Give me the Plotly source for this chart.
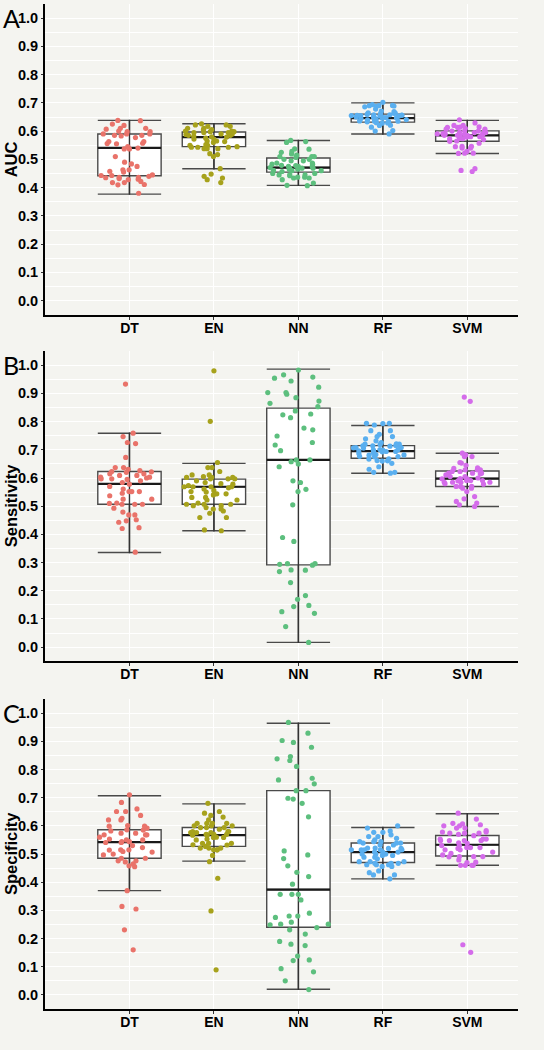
import plotly.graph_objects as go

# ---------------- data ----------------
models = ["DT", "EN", "NN", "RF", "SVM"]
colors = ["#E9736A", "#A7A21C", "#5DBF7E", "#5AAFEF", "#D46CEA"]
metrics = ["AUC", "Sensitivity", "Specificity"]
panel_letters = ["A", "B", "C"]
y_ticks = [0.0, 0.1, 0.2, 0.3, 0.4, 0.5, 0.6, 0.7, 0.8, 0.9, 1.0]

auc_dt = [0.637, 0.638, 0.625, 0.620, 0.610, 0.610, 0.607, 0.598, 0.598, 0.600, 0.590, 0.590, 0.590, 0.585, 0.585,
          0.583, 0.577, 0.563, 0.563, 0.557, 0.555, 0.556, 0.545, 0.540, 0.537, 0.537, 0.510, 0.490, 0.484, 0.475,
          0.463, 0.463, 0.458, 0.455, 0.445, 0.443, 0.443, 0.440, 0.436, 0.436, 0.435, 0.432, 0.430, 0.428, 0.422,
          0.418, 0.418, 0.410, 0.411, 0.380]
auc_en = [0.626, 0.622, 0.622, 0.617, 0.617, 0.610, 0.610, 0.605, 0.605, 0.598, 0.598, 0.600, 0.600, 0.595, 0.595,
          0.595, 0.590, 0.590, 0.588, 0.585, 0.585, 0.582, 0.579, 0.580, 0.575, 0.572, 0.572, 0.565, 0.565, 0.563,
          0.560, 0.552, 0.550, 0.550, 0.545, 0.543, 0.543, 0.543, 0.538, 0.538, 0.538, 0.520, 0.517, 0.510, 0.467,
          0.448, 0.440, 0.434, 0.428, 0.418]
auc_nn = [0.567, 0.563, 0.560, 0.537, 0.536, 0.528, 0.525, 0.519, 0.515, 0.510, 0.510, 0.510, 0.507, 0.500, 0.500,
          0.495, 0.495, 0.487, 0.487, 0.483, 0.483, 0.479, 0.478, 0.475, 0.475, 0.475, 0.471, 0.469, 0.469, 0.469,
          0.465, 0.465, 0.461, 0.460, 0.460, 0.457, 0.450, 0.450, 0.445, 0.445, 0.445, 0.442, 0.437, 0.437, 0.434,
          0.434, 0.428, 0.416, 0.408, 0.407]
auc_rf = [0.702, 0.694, 0.691, 0.690, 0.689, 0.690, 0.688, 0.686, 0.678, 0.671, 0.669, 0.665, 0.664, 0.663, 0.663,
          0.659, 0.658, 0.657, 0.658, 0.656, 0.655, 0.654, 0.656, 0.655, 0.653, 0.651, 0.650, 0.649, 0.650, 0.648,
          0.646, 0.647, 0.645, 0.646, 0.641, 0.640, 0.642, 0.635, 0.636, 0.634, 0.635, 0.633, 0.629, 0.628, 0.630,
          0.620, 0.621, 0.614, 0.602, 0.600, 0.590]
auc_svm = [0.640, 0.629, 0.620, 0.620, 0.614, 0.615, 0.613, 0.613, 0.610, 0.607, 0.607, 0.601, 0.601, 0.600, 0.600,
           0.595, 0.595, 0.596, 0.590, 0.590, 0.591, 0.589, 0.590, 0.585, 0.585, 0.586, 0.584, 0.585, 0.580, 0.580,
           0.579, 0.575, 0.573, 0.573, 0.570, 0.565, 0.564, 0.557, 0.546, 0.546, 0.545, 0.540, 0.540, 0.528, 0.522,
           0.522, 0.521, 0.467, 0.461, 0.457]

sens_dt = [0.933, 0.759, 0.747, 0.726, 0.722, 0.673, 0.637, 0.637, 0.631, 0.626, 0.623, 0.622, 0.620, 0.615, 0.615,
           0.609, 0.609, 0.603, 0.603, 0.600, 0.597, 0.597, 0.595, 0.590, 0.584, 0.578, 0.570, 0.561, 0.552, 0.552,
           0.552, 0.546, 0.537, 0.525, 0.525, 0.511, 0.510, 0.507, 0.507, 0.507, 0.493, 0.479, 0.469, 0.469, 0.452,
           0.448, 0.443, 0.424, 0.421, 0.337]
sens_en = [0.980, 0.801, 0.655, 0.637, 0.637, 0.623, 0.611, 0.611, 0.605, 0.602, 0.602, 0.602, 0.597, 0.597, 0.597,
           0.590, 0.584, 0.580, 0.578, 0.573, 0.569, 0.569, 0.569, 0.569, 0.565, 0.561, 0.556, 0.552, 0.550, 0.544,
           0.544, 0.540, 0.531, 0.531, 0.522, 0.522, 0.511, 0.507, 0.507, 0.507, 0.502, 0.502, 0.495, 0.490, 0.490,
           0.483, 0.475, 0.460, 0.460, 0.416, 0.413]
sens_nn = [0.983, 0.966, 0.958, 0.954, 0.944, 0.922, 0.903, 0.903, 0.897, 0.885, 0.873, 0.865, 0.853, 0.838, 0.827,
           0.824, 0.814, 0.777, 0.771, 0.749, 0.726, 0.717, 0.697, 0.664, 0.664, 0.658, 0.650, 0.640, 0.590, 0.584,
           0.560, 0.552, 0.505, 0.389, 0.375, 0.296, 0.296, 0.294, 0.291, 0.274, 0.273, 0.268, 0.229, 0.183, 0.170,
           0.148, 0.144, 0.126, 0.120, 0.073, 0.017]
sens_rf = [0.794, 0.793, 0.794, 0.788, 0.768, 0.768, 0.755, 0.747, 0.747, 0.739, 0.732, 0.726, 0.720, 0.721, 0.719,
           0.720, 0.714, 0.715, 0.713, 0.714, 0.708, 0.707, 0.709, 0.708, 0.706, 0.700, 0.701, 0.699, 0.700, 0.694,
           0.695, 0.693, 0.694, 0.696, 0.688, 0.687, 0.682, 0.683, 0.681, 0.676, 0.677, 0.675, 0.668, 0.667, 0.661,
           0.660, 0.662, 0.652, 0.640, 0.631, 0.620, 0.620, 0.617]
sens_svm = [0.887, 0.872, 0.688, 0.682, 0.676, 0.676, 0.655, 0.653, 0.645, 0.636, 0.634, 0.629, 0.629, 0.629, 0.623,
            0.623, 0.617, 0.617, 0.617, 0.615, 0.611, 0.605, 0.605, 0.600, 0.597, 0.597, 0.597, 0.597, 0.591, 0.591,
            0.591, 0.590, 0.585, 0.585, 0.585, 0.585, 0.580, 0.578, 0.570, 0.570, 0.570, 0.564, 0.564, 0.552, 0.534,
            0.526, 0.517, 0.511, 0.505, 0.499]

spec_dt = [0.710, 0.683, 0.660, 0.651, 0.651, 0.637, 0.627, 0.621, 0.621, 0.601, 0.599, 0.599, 0.592, 0.586, 0.585,
           0.582, 0.574, 0.574, 0.568, 0.568, 0.568, 0.560, 0.553, 0.550, 0.550, 0.544, 0.544, 0.541, 0.541, 0.530,
           0.523, 0.515, 0.515, 0.514, 0.509, 0.507, 0.500, 0.497, 0.485, 0.485, 0.476, 0.476, 0.472, 0.465, 0.458,
           0.455, 0.370, 0.314, 0.305, 0.231, 0.160]
spec_en = [0.680, 0.651, 0.645, 0.637, 0.631, 0.621, 0.609, 0.609, 0.609, 0.609, 0.600, 0.600, 0.600, 0.594, 0.594,
           0.594, 0.588, 0.580, 0.580, 0.580, 0.576, 0.576, 0.576, 0.570, 0.570, 0.570, 0.567, 0.567, 0.560, 0.559,
           0.559, 0.553, 0.550, 0.538, 0.538, 0.538, 0.533, 0.532, 0.527, 0.521, 0.521, 0.521, 0.515, 0.515, 0.515,
           0.495, 0.473, 0.414, 0.298, 0.089]
spec_nn = [0.967, 0.929, 0.903, 0.896, 0.879, 0.846, 0.838, 0.832, 0.811, 0.769, 0.763, 0.749, 0.725, 0.725, 0.698,
           0.695, 0.680, 0.632, 0.511, 0.497, 0.484, 0.458, 0.435, 0.420, 0.393, 0.357, 0.357, 0.357, 0.337, 0.290,
           0.280, 0.280, 0.275, 0.258, 0.251, 0.251, 0.249, 0.239, 0.231, 0.216, 0.190, 0.180, 0.175, 0.138, 0.124,
           0.122, 0.093, 0.082, 0.050, 0.019]
spec_rf = [0.600, 0.592, 0.582, 0.577, 0.577, 0.568, 0.562, 0.562, 0.556, 0.550, 0.544, 0.544, 0.544, 0.539, 0.539,
           0.539, 0.532, 0.532, 0.521, 0.520, 0.521, 0.520, 0.515, 0.515, 0.515, 0.515, 0.515, 0.507, 0.507, 0.507,
           0.500, 0.500, 0.500, 0.495, 0.495, 0.489, 0.489, 0.483, 0.473, 0.473, 0.473, 0.467, 0.467, 0.467, 0.462,
           0.462, 0.462, 0.456, 0.456, 0.440, 0.434, 0.426, 0.426, 0.412]
spec_svm = [0.645, 0.624, 0.609, 0.607, 0.604, 0.600, 0.600, 0.592, 0.592, 0.583, 0.578, 0.578, 0.574, 0.574, 0.574,
            0.570, 0.565, 0.553, 0.553, 0.553, 0.548, 0.548, 0.548, 0.548, 0.540, 0.538, 0.530, 0.530, 0.523, 0.523,
            0.523, 0.520, 0.515, 0.515, 0.507, 0.502, 0.497, 0.491, 0.491, 0.491, 0.490, 0.479, 0.471, 0.470, 0.460,
            0.460, 0.460, 0.460, 0.178, 0.151]

# box statistics (per model, order of `models`)
auc_q1 = [0.442, 0.545, 0.455, 0.632, 0.564]
auc_med = [0.541, 0.579, 0.471, 0.646, 0.585]
auc_q3 = [0.590, 0.597, 0.505, 0.660, 0.601]
auc_lo = [0.377, 0.467, 0.408, 0.590, 0.521]
auc_hi = [0.638, 0.626, 0.567, 0.700, 0.638]

sens_q1 = [0.507, 0.507, 0.292, 0.670, 0.570]
sens_med = [0.579, 0.569, 0.664, 0.695, 0.598]
sens_q3 = [0.623, 0.596, 0.848, 0.715, 0.625]
sens_lo = [0.336, 0.413, 0.017, 0.617, 0.499]
sens_hi = [0.759, 0.652, 0.986, 0.786, 0.688]

spec_q1 = [0.485, 0.527, 0.240, 0.470, 0.493]
spec_med = [0.542, 0.567, 0.374, 0.507, 0.533]
spec_q3 = [0.586, 0.594, 0.725, 0.539, 0.566]
spec_lo = [0.370, 0.475, 0.020, 0.412, 0.460]
spec_hi = [0.707, 0.678, 0.964, 0.594, 0.643]

points = [
    [auc_dt, auc_en, auc_nn, auc_rf, auc_svm],
    [sens_dt, sens_en, sens_nn, sens_rf, sens_svm],
    [spec_dt, spec_en, spec_nn, spec_rf, spec_svm],
]
stats = [
    (auc_q1, auc_med, auc_q3, auc_lo, auc_hi),
    (sens_q1, sens_med, sens_q3, sens_lo, sens_hi),
    (spec_q1, spec_med, spec_q3, spec_lo, spec_hi),
]

# ---------------- layout constants ----------------
W, H = 544, 1050
ML, MR, MT, MB = 45, 26, 4, 41
BG = "#F4F4F0"
FONT = "Liberation Sans, Arial, sans-serif"
domains = [[0.6908, 1.0], [0.346, 0.6546], [0.0, 0.3084]]
xpos = list(range(1, len(models) + 1))
XR = [0.0, 5.6]
BOXW = 0.75
plot_w = W - ML - MR

fig = go.Figure()

for p in range(3):
    xa = "x" if p == 0 else f"x{p+1}"
    ya = "y" if p == 0 else f"y{p+1}"
    q1, med, q3, lo, hi = stats[p]
    # box with whiskers + caps
    fig.add_trace(go.Box(
        x=xpos, q1=q1, median=med, q3=q3, lowerfence=lo, upperfence=hi,
        width=BOXW, whiskerwidth=1, fillcolor="white",
        line=dict(color="#4a4a4a", width=1.4), boxpoints=False,
        xaxis=xa, yaxis=ya, hoverinfo="skip", showlegend=False))
    # vertical line through box (errorbar)
    fig.add_trace(go.Box(
        x=xpos, q1=lo, median=lo, q3=hi, lowerfence=lo, upperfence=hi,
        width=0.0001, whiskerwidth=0, fillcolor="rgba(0,0,0,0)",
        line=dict(color="#333333", width=1.4), boxpoints=False,
        xaxis=xa, yaxis=ya, hoverinfo="skip", showlegend=False))
    # thick median
    fig.add_trace(go.Box(
        x=xpos, q1=med, median=med, q3=med, lowerfence=med, upperfence=med,
        width=BOXW, whiskerwidth=0, fillcolor="rgba(0,0,0,0)",
        line=dict(color="#1a1a1a", width=2.2), boxpoints=False,
        xaxis=xa, yaxis=ya, hoverinfo="skip", showlegend=False))
    # jittered points
    for i, m in enumerate(models):
        vals = points[p][i]
        fig.add_trace(go.Box(
            x=[xpos[i]] * len(vals), y=vals, name=m,
            boxpoints="all", jitter=1, pointpos=0, width=0.8,
            fillcolor="rgba(0,0,0,0)", line=dict(color="rgba(0,0,0,0)", width=0),
            whiskerwidth=0,
            marker=dict(color=colors[i], size=5.2, opacity=1),
            xaxis=xa, yaxis=ya, showlegend=False))

layout = dict(
    width=W, height=H,
    margin=dict(l=ML, r=MR, t=MT, b=MB, autoexpand=False),
    paper_bgcolor=BG, plot_bgcolor=BG,
    showlegend=False, boxmode="overlay",
    font=dict(family=FONT, color="black"),
)
annotations = []
for p in range(3):
    sx = "" if p == 0 else str(p + 1)
    layout["xaxis" + sx] = dict(
        domain=[0, 1], anchor="y" + sx, range=XR, automargin=False,
        tickmode="array", tickvals=xpos, ticktext=models,
        showgrid=True, gridcolor="white", gridwidth=1.2, zeroline=False,
        showline=True, linecolor="black", linewidth=2,
        ticks="outside", ticklen=3, tickcolor="#333333", tickwidth=1,
        ticklabelstandoff=-4,
        tickfont=dict(family=FONT, size=14, color="black", weight="bold"),
    )
    layout["yaxis" + sx] = dict(
        domain=domains[p], anchor="x" + sx, range=[-0.05, 1.05], automargin=False,
        tickmode="array", tickvals=y_ticks, tickformat=".1f",
        showgrid=True, gridcolor="white", gridwidth=1.2, zeroline=False,
        minor=dict(dtick=0.05, tick0=0, showgrid=True, gridcolor="white", gridwidth=0.6),
        showline=True, linecolor="black", linewidth=2,
        ticks="outside", ticklen=2, tickcolor="#333333", tickwidth=1,
        tickfont=dict(family=FONT, size=14.5, color="black", weight="bold"),
    )
    # axis title
    annotations.append(dict(
        text=metrics[p], xref="paper", yref="y" + sx,
        x=-(ML - 11) / plot_w, y=0.5, xanchor="center", yanchor="middle",
        textangle=-90, showarrow=False,
        font=dict(family=FONT, size=16.5, color="black", weight="bold")))
    # panel letter
    annotations.append(dict(
        text=panel_letters[p], xref="paper", yref="y" + sx,
        x=-(ML - 1) / plot_w, y=1.0, xanchor="left", yanchor="middle",
        showarrow=False, font=dict(family="Lato, Open Sans, sans-serif", size=25, color="black")))
layout["annotations"] = annotations

fig.update_layout(**layout)
fig.write_html(
    "out.html",
    config={"displayModeBar": False},
    post_script=f"document.body.style.margin='0';document.body.style.background='{BG}';",
)
